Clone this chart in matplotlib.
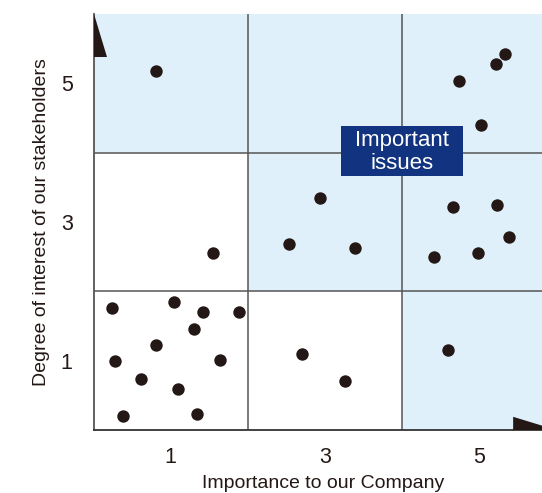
import matplotlib
matplotlib.use("Agg")
import matplotlib.pyplot as plt
from matplotlib.patches import Rectangle, Polygon

plt.rcParams['font.family'] = ['Liberation Sans', 'DejaVu Sans']

# Data: issues (importance to company, interest of stakeholders)
company = [0.81, 5.34, 5.22, 4.74, 5.02,
           1.545, 4.66, 5.23, 5.39, 4.41, 4.98,
           2.94, 2.53, 3.39,
           2.70, 3.26, 4.59,
           0.236, 1.05, 1.42, 1.89, 1.30, 0.81, 0.28, 1.64, 0.62, 1.09, 0.38, 1.34]
stakeholders = [5.18, 5.42, 5.28, 5.03, 4.40,
                2.56, 3.21, 3.25, 2.78, 2.50, 2.56,
                3.34, 2.68, 2.62,
                1.10, 0.71, 1.15,
                1.76, 1.84, 1.70, 1.70, 1.45, 1.22, 1.00, 1.01, 0.74, 0.59, 0.20, 0.23]

tick_values = [1, 3, 5]
tick_labels = ["1", "3", "5"]
grid_edges = [0, 2, 4, 6]
# shaded cells as (column index, row index), row 0 = bottom
shaded_cells = [(0, 2), (1, 2), (2, 2), (1, 1), (2, 1), (2, 0)]

xlabel = "Importance to our Company"
ylabel = "Degree of interest of our stakeholders"
box_text = "Important\nissues"

W, H = 542, 493
fig = plt.figure(figsize=(W / 100, H / 100), dpi=100)
ax = fig.add_axes([93.5 / W, 63 / H, (W - 93.5) / W, 416 / H])
ax.set_xlim(0, 5.814)
ax.set_ylim(0, 6)

light = "#dff0fa"
for (c, r) in shaded_cells:
    ax.add_patch(Rectangle((grid_edges[c], grid_edges[r]), 2, 2,
                           facecolor=light, edgecolor="none", zorder=0))

for v in grid_edges[1:3]:
    ax.axvline(v, color="#555555", lw=1.1, zorder=1)
    ax.axhline(v, color="#555555", lw=1.1, zorder=1)

# arrowheads at axis ends
ax.add_patch(Polygon([(0, 6), (0, 5.38), (0.175, 5.38)], closed=True,
                     facecolor="#231815", edgecolor="none", zorder=3, clip_on=False))
ax.add_patch(Polygon([(5.44, 0), (5.44, 0.19), (6.0, 0)], closed=True,
                     facecolor="#231815", edgecolor="none", zorder=3))

ax.scatter(company, stakeholders, s=80, color="#231815", zorder=4, linewidths=0)

ax.add_patch(Rectangle((3.21, 3.66), 1.58, 0.72, facecolor="#12337f",
                       edgecolor="none", zorder=5))
ax.text(4.0, 4.01, box_text, ha="center", va="center", color="white",
        fontsize=16, linespacing=1.08, zorder=6)

for s in ["top", "right"]:
    ax.spines[s].set_visible(False)
ax.spines["left"].set_color("#555555")
ax.spines["left"].set_linewidth(1.3)
ax.spines["bottom"].set_color("#333333")
ax.spines["bottom"].set_linewidth(1.3)

ax.set_xticks(tick_values)
ax.set_xticklabels(tick_labels)
ax.set_yticks(tick_values)
ax.set_yticklabels(tick_labels)
ax.tick_params(length=0, labelsize=15.5, colors="#231815")
ax.tick_params(axis="x", pad=12)
ax.tick_params(axis="y", pad=15)
ax.set_xlabel(xlabel, fontsize=14, color="#231815", va="center")
ax.set_ylabel(ylabel, fontsize=14, color="#231815", va="center")
ax.xaxis.set_label_coords(0.512, -0.128)
ax.yaxis.set_label_coords(-0.117, 0.499)

fig.savefig("out.png", dpi=100)
